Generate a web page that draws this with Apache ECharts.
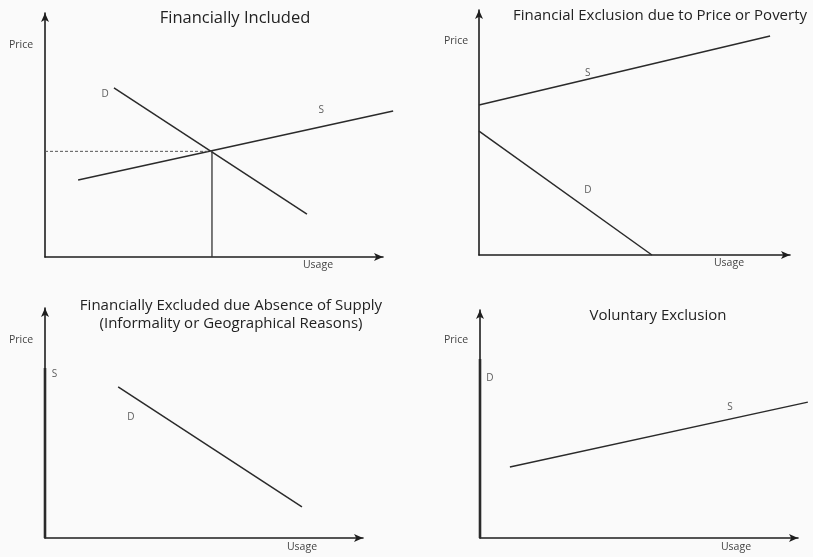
<!DOCTYPE html>
<html>
<head>
<meta charset="utf-8">
<script src="https://cdn.jsdelivr.net/npm/echarts@6/dist/echarts.min.js"></script>
<style>
html,body{margin:0;padding:0;background:#fafafa;}
#chart{width:813px;height:557px;}
</style>
</head>
<body>
<div id="chart"></div>
<script>
// Panel titles
const panelTitles = [
  'Financially Included',
  'Financial Exclusion due to Price or Poverty',
  'Financially Excluded due Absence of Supply\n(Informality or Geographical Reasons)',
  'Voluntary Exclusion'
];
const yAxisName = 'Price';
const xAxisName = 'Usage';

// Panel 1: Financially Included (units: 0-100 along each axis)
const p1Demand = [[20.4, 69.3], [77.5, 17.6]];
const p1Supply = [[9.8, 31.6], [103, 59.8]];
const p1EqPrice = [[0, 43.3], [49.4, 43.3]];
const p1EqQty = [[49.4, 0], [49.4, 43.3]];
const p1Labels = [['D', 17.8, 66.8], ['S', 81.7, 60.2]];

// Panel 2: Financial Exclusion due to Price or Poverty
const p2Supply = [[0, 61.2], [93.6, 89.4]];
const p2Demand = [[0, 50.6], [55.6, 0]];
const p2Labels = [['S', 35, 74.3], ['D', 35, 26.5]];

// Panel 3: Absence of Supply
const p3Supply = [[0, 0], [0, 73.9]];
const p3Demand = [[23, 65.7], [80.8, 13.5]];
const p3Labels = [['S', 3.0, 71.3], ['D', 27, 52.6]];

// Panel 4: Voluntary Exclusion
const p4Demand = [[0, 0], [0, 78.5]];
const p4Supply = [[9.4, 31.1], [103.1, 59.6]];
const p4Labels = [['D', 3.1, 70.2], ['S', 78.6, 57.5]];

const FONT = '"Open Sans", sans-serif';
const LINE = '#2a2a2a';
const EXT1 = 1.1;  // panel 1 overlay range so lines may run past the axis arrow
const EXT4 = 1.04; // panel 4 overlay range (kept inside the canvas)

const grids = [
  {left: 45, top: 13, width: 338, height: 244},
  {left: 479, top: 10, width: 311, height: 245},
  {left: 45, top: 308, width: 318, height: 230},
  {left: 480, top: 310, width: 318, height: 228},
  // hidden overlays for panels 1 and 4 (same scale, wider extent)
  {left: 45, top: 13, width: 338 * EXT1, height: 244},
  {left: 480, top: 310, width: 318 * EXT4, height: 228}
];
const xMax = [100, 100, 100, 100, 100 * EXT1, 100 * EXT4];

function axis(idx, max, visible) {
  return {
    type: 'value', gridIndex: idx, min: 0, max: max,
    splitLine: {show: false}, axisTick: {show: false}, axisLabel: {show: false},
    axisLine: {show: visible, onZero: false, symbol: ['none', 'arrow'], symbolSize: [6, 9],
      lineStyle: {color: '#1e1e1e', width: 1.6}}
  };
}

function lineSeries(idx, data, opts) {
  return Object.assign({
    type: 'line', xAxisIndex: idx, yAxisIndex: idx, data: data,
    showSymbol: false, symbol: 'none', clip: false, silent: true,
    lineStyle: {color: LINE, width: 1.5}
  }, opts || {});
}

function labelSeries(idx, labels) {
  return {
    type: 'scatter', xAxisIndex: idx, yAxisIndex: idx, symbolSize: 0, silent: true, clip: false,
    data: labels.map(l => ({name: l[0], value: [l[1], l[2]]})),
    label: {show: true, position: 'inside', formatter: p => p.name,
      fontFamily: FONT, fontSize: 10, color: '#333'}
  };
}

const titleDefs = [
  {text: panelTitles[0], left: 235, top: 9, size: 16.5},
  {text: panelTitles[1], left: 660, top: 7, size: 15},
  {text: panelTitles[2], left: 231, top: 297, size: 15},
  {text: panelTitles[3], left: 658, top: 307, size: 15}
];
const axisNameDefs = [
  {text: yAxisName, left: 21, top: 40}, {text: xAxisName, left: 318, top: 260},
  {text: yAxisName, left: 456, top: 36}, {text: xAxisName, left: 729, top: 258},
  {text: yAxisName, left: 21, top: 335}, {text: xAxisName, left: 302, top: 542},
  {text: yAxisName, left: 456, top: 335}, {text: xAxisName, left: 736, top: 542}
];

const titles = titleDefs.map(t => ({
  text: t.text, left: t.left, top: t.top, textAlign: 'center', padding: 0,
  textStyle: {fontFamily: FONT, fontSize: t.size, fontWeight: 'normal', color: '#222', lineHeight: 18}
})).concat(axisNameDefs.map(t => ({
  text: t.text, left: t.left, top: t.top, textAlign: 'center', padding: 0,
  textStyle: {fontFamily: FONT, fontSize: 10.5, fontWeight: 'normal', color: '#444'}
})));

const series = [
  lineSeries(4, p1Demand), lineSeries(4, p1Supply),
  lineSeries(4, p1EqPrice, {lineStyle: {color: '#555', width: 1, type: [3, 2]}}),
  lineSeries(4, p1EqQty, {lineStyle: {color: '#333', width: 1.3}}),
  labelSeries(4, p1Labels),
  lineSeries(1, p2Supply), lineSeries(1, p2Demand), labelSeries(1, p2Labels),
  lineSeries(2, p3Supply, {lineStyle: {color: LINE, width: 2.6}}), lineSeries(2, p3Demand), labelSeries(2, p3Labels),
  lineSeries(5, p4Demand, {lineStyle: {color: LINE, width: 2.6}}), lineSeries(5, p4Supply), labelSeries(5, p4Labels)
];

const chart = echarts.init(document.getElementById('chart'), null, {renderer: 'canvas'});
chart.setOption({
  backgroundColor: '#fafafa',
  animation: false,
  title: titles,
  grid: grids,
  xAxis: grids.map((g, i) => axis(i, xMax[i], i < 4)),
  yAxis: grids.map((g, i) => axis(i, 100, i < 4)),
  series: series
});
</script>
</body>
</html>
